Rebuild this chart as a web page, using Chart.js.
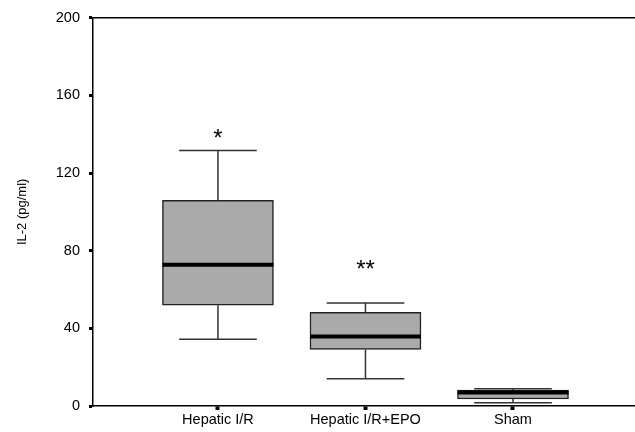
<!DOCTYPE html>
<html lang="en">
<head>
    <meta charset="UTF-8">
    <title>IL-2 box plot</title>
    <script src="https://cdn.jsdelivr.net/npm/chart.js@4.4.0/dist/chart.umd.min.js"></script>
    <style>
        html, body { margin: 0; padding: 0; background: #fff; }
        #wrap { width: 635px; height: 432px; position: relative; }
    </style>
</head>
<body>
<div id="wrap"><canvas id="boxChart"></canvas></div>

<script>
    // data
    const groups = ['Hepatic I/R', 'Hepatic I/R+EPO', 'Sham'];
    const whiskerLow  = [34.4, 14.0, 1.7];
    const q1          = [51.9, 29.1, 3.6];
    const median      = [72.8, 35.8, 7.0];
    const q3          = [105.9, 48.2, 8.2];
    const whiskerHigh = [131.6, 53.1, 8.9];
    const marks       = ['*', '**', ''];
    const markAt      = [140, 72.5, null];
    const yTicks      = [0, 40, 80, 120, 160, 200];

    const FONT = 'Arial, "Liberation Sans", sans-serif';

    // whiskers, medians, significance marks and top frame line
    const boxExtras = {
        id: 'boxExtras',
        afterDatasetsDraw(chart) {
            const ctx = chart.ctx;
            const x = chart.scales.x, y = chart.scales.y;
            const meta = chart.getDatasetMeta(0);
            ctx.save();
            groups.forEach((g, i) => {
                const cx = x.getPixelForValue(i);
                const half = meta.data[i].width / 2;
                const cap = half * 0.7;
                ctx.strokeStyle = '#333';
                ctx.lineWidth = 1.5;
                ctx.beginPath();
                ctx.moveTo(cx, y.getPixelForValue(whiskerHigh[i]));
                ctx.lineTo(cx, y.getPixelForValue(q3[i]));
                ctx.moveTo(cx, y.getPixelForValue(q1[i]));
                ctx.lineTo(cx, y.getPixelForValue(whiskerLow[i]));
                ctx.moveTo(cx - cap, y.getPixelForValue(whiskerHigh[i]));
                ctx.lineTo(cx + cap, y.getPixelForValue(whiskerHigh[i]));
                ctx.moveTo(cx - cap, y.getPixelForValue(whiskerLow[i]));
                ctx.lineTo(cx + cap, y.getPixelForValue(whiskerLow[i]));
                ctx.stroke();

                ctx.strokeStyle = '#000';
                ctx.lineWidth = 4;
                ctx.beginPath();
                ctx.moveTo(cx - half, y.getPixelForValue(median[i]));
                ctx.lineTo(cx + half, y.getPixelForValue(median[i]));
                ctx.stroke();

                if (marks[i]) {
                    ctx.fillStyle = '#000';
                    ctx.font = '24px ' + FONT;
                    ctx.textAlign = 'center';
                    ctx.textBaseline = 'middle';
                    ctx.fillText(marks[i], cx, y.getPixelForValue(markAt[i]) + 5);
                }
            });
            const a = chart.chartArea;
            ctx.strokeStyle = '#000';
            ctx.lineWidth = 1.5;
            ctx.beginPath();
            ctx.moveTo(a.left, a.top);
            ctx.lineTo(a.right, a.top);
            ctx.stroke();
            ctx.restore();
        }
    };

    new Chart(document.getElementById('boxChart'), {
        type: 'bar',
        data: {
            datasets: [{
                data: groups.map((g, i) => ({ x: i, y: [q1[i], q3[i]] })),
                backgroundColor: '#aaaaaa',
                borderColor: '#222',
                borderWidth: 1.5,
                borderSkipped: false,
                barThickness: 111
            }]
        },
        options: {
            responsive: true,
            maintainAspectRatio: false,
            animation: false,
            layout: { padding: { top: 17, right: 0, bottom: 0, left: 0 } },
            plugins: { legend: { display: false }, tooltip: { enabled: false } },
            scales: {
                x: {
                    type: 'linear',
                    offset: false,
                    min: -0.847,
                    max: 2.827,
                    afterBuildTicks: s => { s.ticks = groups.map((g, i) => ({ value: i })); },
                    afterFit: s => { s.height = 26; },
                    grid: { offset: false, drawOnChartArea: false, tickLength: 4, tickWidth: 4, tickColor: '#000' },
                    border: { color: '#000', width: 1.5 },
                    ticks: {
                        padding: 1,
                        color: '#000',
                        font: { family: FONT, size: 14.5 },
                        callback: v => groups[v]
                    }
                },
                y: {
                    min: 0,
                    max: 200,
                    afterBuildTicks: s => { s.ticks = yTicks.map(v => ({ value: v })); },
                    afterFit: s => { s.width = 93; },
                    grid: { drawOnChartArea: false, tickLength: 4, tickWidth: 3, tickColor: '#000' },
                    border: { color: '#000', width: 1.5 },
                    ticks: {
                        padding: 9,
                        color: '#000',
                        font: { family: FONT, size: 14.5 }
                    },
                    title: {
                        display: true,
                        text: 'IL-2 (pg/ml)',
                        color: '#000',
                        font: { family: FONT, size: 13 },
                        padding: { top: 15, bottom: 0 }
                    }
                }
            }
        },
        plugins: [boxExtras]
    });
</script>
</body>
</html>
